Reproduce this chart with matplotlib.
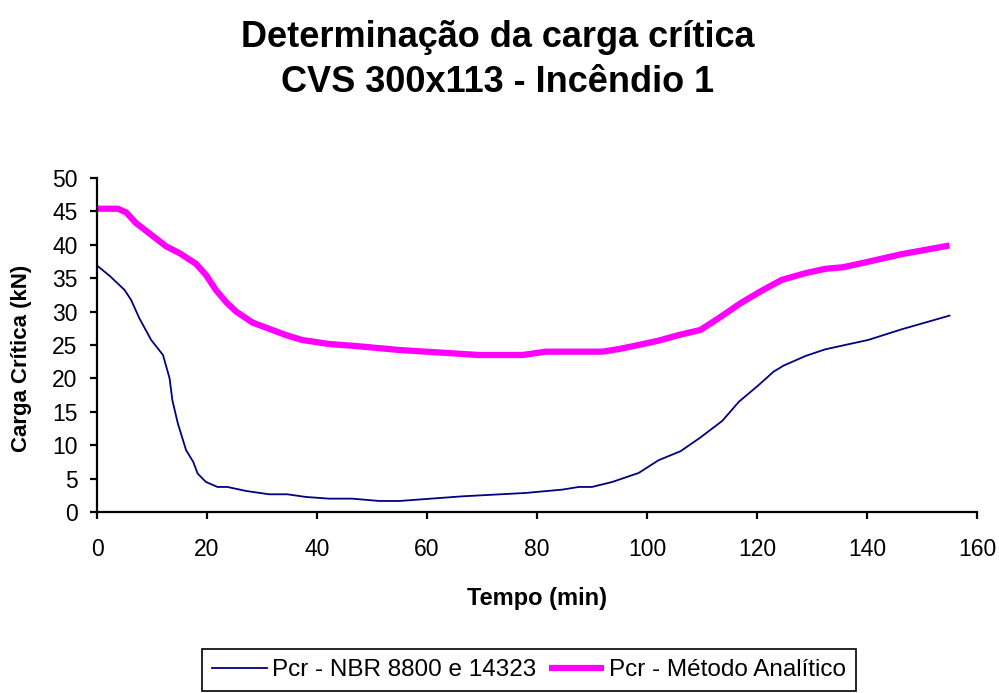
import matplotlib
matplotlib.use("Agg")
import matplotlib.pyplot as plt

plt.rcParams['font.family'] = ['Liberation Sans', 'DejaVu Sans']

# Data
t_nbr = [0, 2.3, 5.0, 6.2, 7.7, 9.85, 12.0, 13.2, 13.7, 14.7, 16.2, 17.5, 18.3, 19.8,
         21.9, 23.7, 27.1, 31.3, 34.6, 38.0, 42.2, 46.4, 51.3, 55.0, 66.5, 77.9, 84.6,
         87.6, 90.0, 93.7, 98.5, 102.1, 106.1, 109.7, 113.7, 116.7, 120.3, 123.0, 124.8,
         128.8, 132.4, 136.0, 140.2, 146.3, 155]
p_nbr = [36.9, 35.35, 33.25, 31.75, 29.0, 25.75, 23.5, 20.0, 16.75, 13.25, 9.25, 7.5, 5.75,
         4.5, 3.75, 3.75, 3.15, 2.65, 2.65, 2.25, 2.0, 2.0, 1.65, 1.65, 2.35, 2.85, 3.35,
         3.75, 3.75, 4.5, 5.85, 7.75, 9.1, 11.15, 13.65, 16.5, 19.0, 21.0, 21.9, 23.35,
         24.35, 25.0, 25.75, 27.35, 29.4]

t_ana = [0, 3.8, 5.3, 7.1, 9.85, 12.6, 15.0, 18.0, 19.8, 21.6, 23.5, 25.3, 28.3, 34.3,
         37.3, 42.2, 47.0, 55.0, 69.5, 77.3, 81.6, 91.9, 94.9, 97.9, 102.1, 105.8, 109.7,
         113.0, 117.0, 120.9, 124.5, 128.8, 132.4, 135.7, 139.6, 146.3, 155]
p_ana = [45.4, 45.4, 44.85, 43.25, 41.5, 39.75, 38.75, 37.15, 35.5, 33.25, 31.4, 30.0,
         28.35, 26.5, 25.75, 25.15, 24.85, 24.25, 23.5, 23.5, 24.0, 24.0, 24.4, 24.9,
         25.65, 26.5, 27.25, 29.0, 31.25, 33.15, 34.75, 35.75, 36.4, 36.65, 37.35, 38.6,
         39.9]

labels = ["Pcr - NBR 8800 e 14323", "Pcr - Método Analítico"]
title = "Determinação da carga crítica\nCVS 300x113 - Incêndio 1"
xlabel = "Tempo (min)"
ylabel = "Carga Crítica (kN)"
xticks = [0, 20, 40, 60, 80, 100, 120, 140, 160]
yticks = [0, 5, 10, 15, 20, 25, 30, 35, 40, 45, 50]

W, H = 999, 693
fig = plt.figure(figsize=(W / 100, H / 100), dpi=100)
ax = fig.add_axes([97 / W, 1 - 512 / H, (977 - 97) / W, (512 - 178) / H])

l1, = ax.plot(t_nbr, p_nbr, color='#000080', lw=1.3, label=labels[0])
l2, = ax.plot(t_ana, p_ana, color='#FF00FF', lw=4.5, label=labels[1],
              solid_joinstyle='round', solid_capstyle='butt')

ax.set_xlim(0, 160)
ax.set_ylim(0, 50)
ax.set_xticks(xticks)
ax.set_yticks(yticks)
for s in ['top', 'right']:
    ax.spines[s].set_visible(False)
for s in ['left', 'bottom']:
    ax.spines[s].set_linewidth(1.6)
    ax.spines[s].set_color('black')
ax.tick_params(axis='both', direction='out', length=5, width=1.6, labelsize=16.5,
               colors='black')
ax.tick_params(axis='x', pad=14)
ax.tick_params(axis='y', pad=9)

fig.text(498 / W, 1 - 60 / H, title, ha='center', va='center', fontsize=26,
         fontweight='bold', linespacing=1.35)
fig.text(537 / W, 1 - 598 / H, xlabel, ha='center', va='center', fontsize=17,
         fontweight='bold')
fig.text(22 / W, 1 - 358 / H, ylabel, ha='center', va='center', fontsize=16,
         fontweight='bold', rotation=90)

leg = fig.legend(handles=[l1, l2], labels=labels, loc='upper center',
                 bbox_to_anchor=(529 / W, 1 - 649 / H), ncol=2, fontsize=17.5,
                 frameon=True, fancybox=False, edgecolor='black', framealpha=1,
                 handlelength=2.25, handletextpad=0.2, columnspacing=0.55,
                 borderpad=0.42, borderaxespad=0)
leg.get_frame().set_linewidth(1.2)

fig.savefig("out.png", dpi=100)
